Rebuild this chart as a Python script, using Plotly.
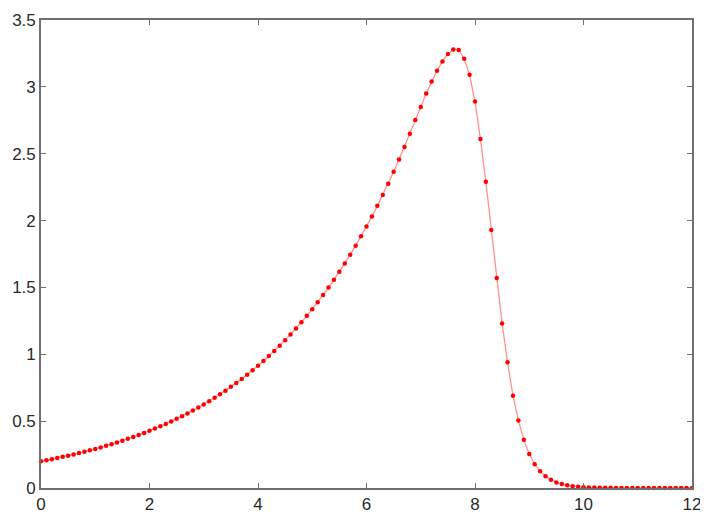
import plotly.graph_objects as go

# x sampled every 0.1 from 0 to 12
x_values = [round(i * 0.1, 1) for i in range(121)]

y_values = [
    0.200, 0.2078, 0.2158, 0.2242, 0.2329, 0.2419, 0.2513, 0.2610, 0.2711, 0.2816,
    0.2925, 0.3038, 0.3156, 0.3278, 0.3405, 0.3537, 0.3674, 0.3816, 0.3964, 0.4118,
    0.4277, 0.4443, 0.4615, 0.4794, 0.4979, 0.5172, 0.5372, 0.5580, 0.5796, 0.6021,
    0.6254, 0.6496, 0.6748, 0.7009, 0.7281, 0.7563, 0.7855, 0.8160, 0.8476, 0.8804,
    0.9145, 0.9499, 0.9867, 1.0249, 1.0646, 1.1058, 1.1486, 1.1931, 1.2393, 1.2873,
    1.3372, 1.3890, 1.4428, 1.4987, 1.5567, 1.6170, 1.6796, 1.7447, 1.8123, 1.8825,
    1.9554, 2.031, 2.110, 2.191, 2.276, 2.365, 2.456, 2.551, 2.650, 2.752,
    2.850, 2.950, 3.040, 3.120, 3.190, 3.245, 3.280, 3.275, 3.210, 3.090,
    2.890, 2.610, 2.290, 1.930, 1.570, 1.230, 0.940, 0.690, 0.505, 0.360,
    0.255, 0.178, 0.125, 0.088, 0.061, 0.042, 0.029, 0.020, 0.014, 0.0095,
    0.0065, 0.0045, 0.0030, 0.0020, 0.0014, 0.0010, 0.0007, 0.0005, 0.0004, 0.0003,
    0.0002, 0.0002, 0.0001, 0.0001, 0.0001, 0.0001, 0.0, 0.0, 0.0, 0.0,
    0.0,
]

x_ticks = [0, 2, 4, 6, 8, 10, 12]
y_ticks = [0, 0.5, 1, 1.5, 2, 2.5, 3, 3.5]
y_tick_labels = ["0", "0.5", "1", "1.5", "2", "2.5", "3", "3.5"]

fig = go.Figure()
fig.add_trace(go.Scatter(
    x=x_values, y=y_values,
    mode="lines+markers",
    line=dict(color="rgba(255,70,70,0.6)", width=1.3),
    marker=dict(color="#ff0000", size=4.5, line=dict(width=0)),
    showlegend=False,
    cliponaxis=False,
))

axis_common = dict(
    showline=True, mirror="ticks", linecolor="#707070", linewidth=1.6,
    ticks="inside", ticklen=5, tickcolor="#707070", tickwidth=1,
    showgrid=False, zeroline=False, automargin=False,
    tickfont=dict(family="Liberation Sans, Arial, sans-serif", size=17, color="#2a2a2a"),
)

fig.update_xaxes(range=[0, 12], tickvals=x_ticks, **axis_common)
fig.update_yaxes(range=[0, 3.5], tickvals=y_ticks, ticktext=y_tick_labels, **axis_common)

fig.update_layout(
    width=700, height=516,
    margin=dict(l=33, r=16, t=12, b=36),
    plot_bgcolor="white", paper_bgcolor="white",
)

fig.write_html("out.html")
